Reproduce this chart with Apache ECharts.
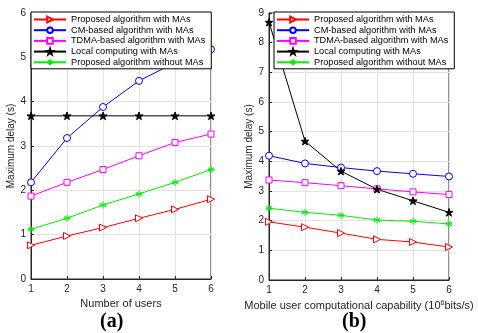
<!DOCTYPE html>
<html>
<head>
<meta charset="utf-8">
<script src="https://cdn.jsdelivr.net/npm/echarts@6/dist/echarts.min.js"></script>
<style>
  html, body { margin: 0; padding: 0; background: #fff; }
  #chart { width: 478px; height: 333px; }
</style>
</head>
<body>
<div id="chart"></div>
<script>
// x values shared by both panels
const xs = [1, 2, 3, 4, 5, 6];
const seriesNames = [
  'Proposed algorithm with MAs',
  'CM-based algorithm with MAs',
  'TDMA-based algorithm with MAs',
  'Local computing with MAs',
  'Proposed algorithm without MAs'
];

// (a) maximum delay vs number of users
const aProposed = [0.76, 0.97, 1.16, 1.37, 1.57, 1.80];
const aCM       = [2.18, 3.18, 3.88, 4.47, 4.88, 5.18];
const aTDMA     = [1.87, 2.18, 2.47, 2.78, 3.08, 3.27];
const aLocal    = [3.68, 3.68, 3.68, 3.68, 3.68, 3.68];
const aNoMA     = [1.12, 1.37, 1.67, 1.92, 2.18, 2.47];

// (b) maximum delay vs user computational capability
const bProposed = [1.96, 1.78, 1.58, 1.37, 1.28, 1.11];
const bCM       = [4.19, 3.93, 3.79, 3.67, 3.58, 3.49];
const bTDMA     = [3.37, 3.28, 3.18, 3.07, 2.97, 2.88];
const bLocal    = [8.69, 4.68, 3.67, 3.06, 2.67, 2.28];
const bNoMA     = [2.42, 2.28, 2.18, 2.02, 1.98, 1.89];

const star = 'path://M0,-10L2.245,-3.09L9.51,-3.09L3.63,1.18L5.88,8.09L0,3.82L-5.88,8.09L-3.63,1.18L-9.51,-3.09L-2.245,-3.09Z';
const asterisk = 'path://M0,-5L0,5M-4.3,-2.5L4.3,2.5M-4.3,2.5L4.3,-2.5M-5,0L5,0';

const styles = [
  { color: '#ff0000', symbol: 'triangle', symbolRotate: -90, symbolSize: 7, fill: '#fff' },
  { color: '#0000ff', symbol: 'circle', symbolSize: 7, fill: '#fff' },
  { color: '#ff00ff', symbol: 'rect', symbolSize: 6, fill: '#fff' },
  { color: '#000000', symbol: star, symbolSize: 8, fill: '#000' },
  { color: '#00ee00', symbol: asterisk, symbolSize: 7, fill: '#00ee00' }
];

function makeSeries(values, idx) {
  return values.map((vals, i) => {
    const s = styles[i];
    return {
      name: seriesNames[i],
      type: 'line',
      xAxisIndex: idx,
      yAxisIndex: idx,
      data: xs.map((x, k) => [x, vals[k]]),
      symbol: s.symbol,
      symbolSize: s.symbolSize,
      symbolRotate: s.symbolRotate || 0,
      symbolKeepAspect: true,
      lineStyle: { color: s.color, width: 1 },
      itemStyle: { color: s.fill, borderColor: s.color, borderWidth: 1 },
      emphasis: { disabled: true },
      animation: false
    };
  });
}

const textColor = '#262626';
const font = 'Liberation Sans, Arial, sans-serif';

function xAxis(idx, name) {
  return {
    type: 'value', gridIndex: idx, min: 1, max: 6, interval: 1,
    name: name, nameLocation: 'middle', nameGap: 17,
    nameTextStyle: { color: textColor, fontSize: 11, fontFamily: font,
      rich: { sup: { fontSize: 7, verticalAlign: 'bottom', padding: [0, 0, 6, 0], color: textColor, fontFamily: font } } },
    axisLine: { show: true, lineStyle: { color: textColor, width: 1 } },
    axisTick: { show: true, inside: true, length: 3, lineStyle: { color: textColor } },
    axisLabel: { color: textColor, fontSize: 10, fontFamily: font, margin: 5 },
    splitLine: { show: true, lineStyle: { color: '#e3e3e3', width: 1 } }
  };
}

function yAxis(idx, max) {
  return {
    type: 'value', gridIndex: idx, min: 0, max: max, interval: 1,
    name: 'Maximum delay (s)', nameLocation: 'middle', nameGap: 11,
    nameTextStyle: { color: textColor, fontSize: 10, fontFamily: font },
    axisLine: { show: true, lineStyle: { color: textColor, width: 1 } },
    axisTick: { show: true, inside: true, length: 3, lineStyle: { color: textColor } },
    axisLabel: { color: textColor, fontSize: 10, fontFamily: font, margin: 5 },
    splitLine: { show: true, lineStyle: { color: '#e3e3e3', width: 1 } }
  };
}

function legend(left) {
  return {
    left: left, top: 12, orient: 'vertical',
    data: seriesNames,
    itemWidth: 32, itemHeight: 7, itemGap: 0.7,
    padding: [2.5, 6, 1.5, 2],
    borderColor: '#000', borderWidth: 1, backgroundColor: '#fff',
    textStyle: { color: '#000', fontSize: 9.2, fontFamily: font, lineHeight: 10 },
    selectedMode: false
  };
}

const chart = echarts.init(document.getElementById('chart'));
chart.setOption({
  animation: false,
  grid: [
    { left: 31, right: 267, top: 13, bottom: 54, show: true, borderColor: textColor, borderWidth: 1 },
    { left: 269, right: 29, top: 13, bottom: 53, show: true, borderColor: textColor, borderWidth: 1 }
  ],
  xAxis: [
    xAxis(0, 'Number of users'),
    xAxis(1, 'Mobile user computational capability (10{sup|6}bits/s)')
  ],
  yAxis: [yAxis(0, 6), yAxis(1, 9)],
  legend: [legend(31), legend(274)],
  series: makeSeries([aProposed, aCM, aTDMA, aLocal, aNoMA], 0)
    .concat(makeSeries([bProposed, bCM, bTDMA, bLocal, bNoMA], 1)),
  graphic: [
    { type: 'text', left: 100, top: 312, style: { text: '(a)', font: 'bold 20px "Liberation Serif", serif', fill: '#000' } },
    { type: 'text', left: 342, top: 312, style: { text: '(b)', font: 'bold 20px "Liberation Serif", serif', fill: '#000' } }
  ]
});
</script>
</body>
</html>
